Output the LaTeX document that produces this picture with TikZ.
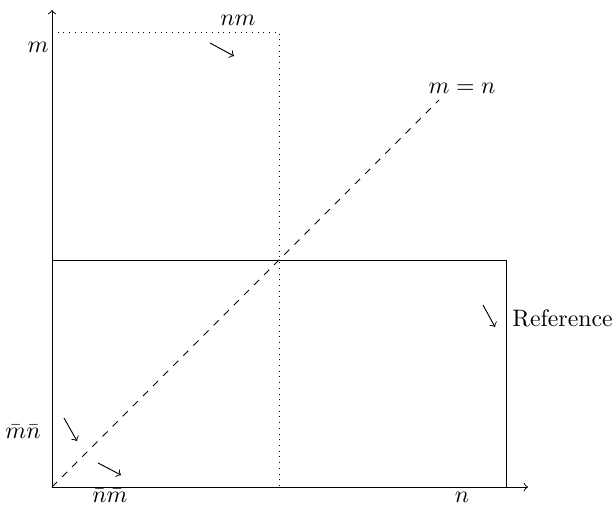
\documentclass[tikz,border=0pt]{standalone}
\begin{document}
\begin{tikzpicture}[x=0.42pt,y=-0.42pt,
  lbl/.style={inner sep=0pt},
  hint/.style={->}]
\useasboundingbox (0,0) rectangle (616,510);
\coordinate (O) at (52,487);
\coordinate (xend) at (528,487);
\coordinate (yend) at (52,10);
\coordinate (dtl) at (52,32);
\coordinate (dtr) at (279,32);
\coordinate (dbr) at (279,487);
\coordinate (stl) at (52,260);
\coordinate (str) at (506,260);
\coordinate (sbr) at (506,487);
\coordinate (diag) at (439,100);
% axes
\draw[->] (O) -- (xend);
\draw[->] (O) -- (yend);
% rectangles
\draw[dotted] (dtl) -- (dtr) -- (dbr);
\draw (stl) -- (str) -- (sbr);
% diagonal
\draw[dashed] (O) -- (diag);
% labels
\node[lbl] (lm) at (38,47) {$m$};
\node[lbl] (lnm) at (238,20) {$nm$};
\node[lbl] (lmn) at (462,88) {$m=n$};
\node[lbl] (lbar1) at (23,432) {$\bar m\bar n$};
\node[lbl] (lbar2) at (110,496) {$\bar n\bar m$};
\node[lbl] (ln) at (462,497) {$n$};
\node[lbl,anchor=west] (lref) at (512,318) {Reference};
% hint arrows
\coordinate (a1s) at (210,43); \coordinate (a1e) at (234,56);
\coordinate (a2s) at (64,418); \coordinate (a2e) at (77,441);
\coordinate (a3s) at (98,463); \coordinate (a3e) at (121,475);
\coordinate (a4s) at (483,305); \coordinate (a4e) at (495,327);
\draw[hint] (a1s) -- (a1e);
\draw[hint] (a2s) -- (a2e);
\draw[hint] (a3s) -- (a3e);
\draw[hint] (a4s) -- (a4e);
\end{tikzpicture}
\end{document}
